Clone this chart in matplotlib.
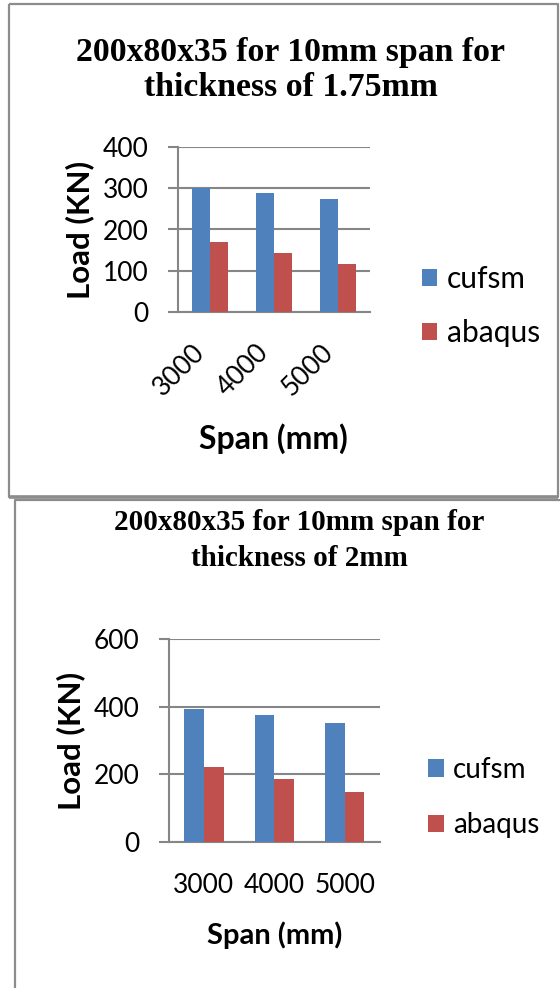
import matplotlib
matplotlib.use("Agg")
import matplotlib.pyplot as plt
from matplotlib.lines import Line2D
import numpy as np

# ----- data -----
spans = ["3000", "4000", "5000"]
series = ["cufsm", "abaqus"]
cufsm_175 = [301, 289, 275]
abaqus_175 = [169, 143, 116]
cufsm_2 = [392, 375, 351]
abaqus_2 = [223, 187, 149]

title_175 = "200x80x35 for 10mm span for\nthickness of 1.75mm"
title_2 = "200x80x35 for 10mm span for\nthickness of 2mm"

BLUE = "#4F81BD"
RED = "#C0504D"
GRID = "#868686"
BORDER = "#8C8C8C"

W, H = 560, 988
SANS = ["Lato", "DejaVu Sans"]
SERIF = ["Liberation Serif", "DejaVu Serif"]


def fx(x):
    return x / W


def fy(y):
    return 1 - y / H


def box(left, top, right, bottom):
    # pixel box (y down) -> figure fraction rect
    return [fx(left), fy(bottom), (right - left) / W, (bottom - top) / H]


def line(fig, xs, ys, lw):
    fig.add_artist(Line2D([fx(v) for v in xs], [fy(v) for v in ys],
                          color=BORDER, lw=lw, solid_capstyle="butt"))


def bar_chart(fig, rect, cufsm, abaqus, ymax, ystep, rot, xpad,
              xlab_size, xlab_pad, leg_xy, leg_size, leg_space, leg_handle):
    ax = fig.add_axes(rect)
    x = np.arange(len(spans))
    w = 0.28
    b1 = ax.bar(x - w / 2, cufsm, w, color=BLUE, label=series[0], zorder=3)
    b2 = ax.bar(x + w / 2, abaqus, w, color=RED, label=series[1], zorder=3)
    ax.set_xlim(-0.5, len(spans) - 0.5)
    ax.set_ylim(0, ymax)
    ax.set_yticks(np.arange(0, ymax + 1, ystep))
    ax.yaxis.grid(True, color=GRID, lw=1.5, zorder=0)
    ax.set_axisbelow(True)
    for s in ["top", "right"]:
        ax.spines[s].set_visible(False)
    for s in ["left", "bottom"]:
        ax.spines[s].set_color(GRID)
        ax.spines[s].set_linewidth(1.5)
    ax.tick_params(axis="y", length=7, width=1.5, color=GRID, pad=14,
                   labelsize=19)
    ax.tick_params(axis="x", length=0, pad=xpad, labelsize=19)
    if rot:
        ax.set_xticks(x, spans, rotation=45, ha="right", va="top")
    else:
        ax.set_xticks(x, spans)
    for t in ax.get_xticklabels() + ax.get_yticklabels():
        t.set_family(SANS)
    ax.set_ylabel("Load (KN)", fontsize=22.5, fontweight="bold", family=SANS,
                  labelpad=6)
    ax.set_xlabel("Span (mm)", fontsize=xlab_size, fontweight="bold",
                  family=SANS, labelpad=xlab_pad)
    ax.legend(handles=[b1, b2], loc="center left",
              bbox_to_anchor=(fx(leg_xy[0]), fy(leg_xy[1])),
              bbox_transform=fig.transFigure, frameon=False,
              prop={"family": SANS, "size": leg_size},
              handlelength=leg_handle, handleheight=leg_handle,
              handletextpad=0.33, labelspacing=leg_space,
              borderpad=0, borderaxespad=0)
    return ax


fig = plt.figure(figsize=(W / 100, H / 100), dpi=100)
fig.patch.set_facecolor("white")

# frames around the two charts
line(fig, [9, 558, 558, 9, 9], [4, 4, 497, 497, 4], 1.6)
line(fig, [9, 558], [497, 497], 2.6)
line(fig, [15, 15, 560], [988, 500, 500], 1.6)

# top chart
fig.text(fx(291), fy(70), title_175, ha="center", va="center",
         fontsize=24.3, fontweight="bold", family=SERIF, linespacing=1.2)
bar_chart(fig, box(177.5, 147, 370, 312), cufsm_175, abaqus_175,
          400, 100, True, 20, 23, 16, (422, 306), 21.5, 0.88, 0.5)

# bottom chart
fig.text(fx(299), fy(540.5), title_2, ha="center", va="center",
         fontsize=21, fontweight="bold", family=SERIF, linespacing=1.4)
bar_chart(fig, box(168.6, 639, 380, 842), cufsm_2, abaqus_2,
          600, 200, False, 22, 21, 17, (428, 797.5), 20, 1.06, 0.58)

fig.savefig("out.png", dpi=100, facecolor="white")
